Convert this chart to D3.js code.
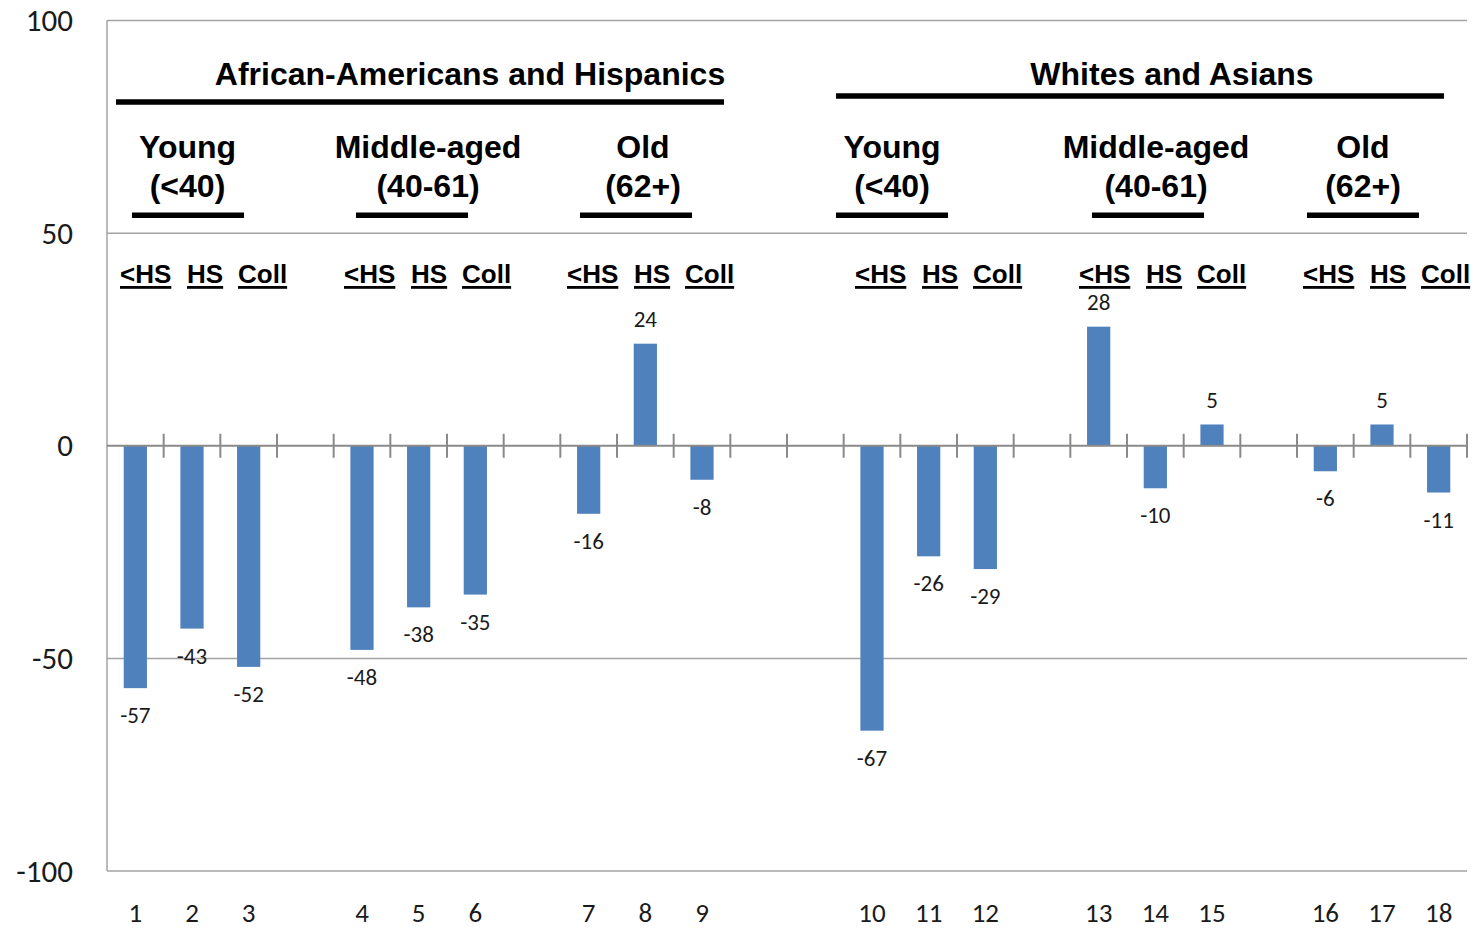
<!DOCTYPE html>
<html>
<head>
<meta charset="utf-8">
<script src="https://cdn.jsdelivr.net/npm/d3@7"></script>
<style>
  html, body { margin: 0; padding: 0; background: #fff; }
  svg { display: block; }
</style>
</head>
<body>
<svg id="chart" width="1477" height="929"></svg>
<script>
// ---- data ----
const raceGroups = ["African-Americans and Hispanics", "Whites and Asians"];
const ageGroups = [["Young", "(<40)"], ["Middle-aged", "(40-61)"], ["Old", "(62+)"]];
const eduLevels = ["<HS", "HS", "Coll"];
const barLabels = ["1","2","3","4","5","6","7","8","9","10","11","12","13","14","15","16","17","18"];
const values = [-57, -43, -52, -48, -38, -35, -16, 24, -8, -67, -26, -29, 28, -10, 5, -6, 5, -11];
const yTicks = [100, 50, 0, -50, -100];

// ---- layout ----
const plot = { left: 107, right: 1467, top: 20.5, bottom: 871 };
const BLUE = "#4f81bd";
const GRID = "#a3a3a3";
const AXIS = "#8a8a8a";
const numFont = "Carlito, 'Liberation Sans', Arial, sans-serif";
const headFont = "'Liberation Sans', Arial, sans-serif";

// category slots: one per bar, one empty slot between age groups,
// two empty slots between the race groups
const slots = [];
let k = 0;
raceGroups.forEach((r, ri) => {
  if (ri > 0) { slots.push(`gap-r${ri}a`); slots.push(`gap-r${ri}b`); }
  ageGroups.forEach((a, ai) => {
    if (ai > 0) slots.push(`gap-${ri}-${ai}`);
    eduLevels.forEach(() => slots.push(barLabels[k++]));
  });
});

const svg = d3.select("#chart");

const x = d3.scaleBand().domain(slots).range([plot.left, plot.right]).padding(0);
const y = d3.scaleLinear().domain([-100, 100]).range([plot.bottom, plot.top]);
const barW = x.bandwidth() * 0.41;

// gridlines
svg.append("g").selectAll("line")
  .data(yTicks.filter(v => v !== 0))
  .join("line")
  .attr("x1", plot.left).attr("x2", plot.right)
  .attr("y1", d => y(d)).attr("y2", d => y(d))
  .attr("stroke", GRID).attr("stroke-width", 1.5);

// vertical axis line
svg.append("line")
  .attr("x1", plot.left).attr("x2", plot.left)
  .attr("y1", y(100)).attr("y2", y(-100))
  .attr("stroke", GRID).attr("stroke-width", 1.5);

// y tick labels
const yAxis = d3.axisLeft(y).tickValues(yTicks).tickSize(0).tickPadding(0).tickFormat(d => String(d));
const yg = svg.append("g").attr("transform", `translate(${plot.left - 34},0)`).call(yAxis);
yg.select(".domain").remove();
yg.selectAll("text")
  .attr("font-family", numFont).attr("font-size", 31).attr("fill", "#1a1a1a")
  .attr("dy", "0.33em");

// bars
svg.append("g").selectAll("rect")
  .data(values)
  .join("rect")
  .attr("x", (d, i) => x(barLabels[i]) + (x.bandwidth() - barW) / 2)
  .attr("width", barW)
  .attr("y", d => y(Math.max(0, d)))
  .attr("height", d => Math.abs(y(d) - y(0)))
  .attr("fill", BLUE);

// zero line with crossing tick marks at category boundaries
svg.append("line")
  .attr("x1", plot.left).attr("x2", plot.right)
  .attr("y1", y(0)).attr("y2", y(0))
  .attr("stroke", AXIS).attr("stroke-width", 2);
svg.append("g").selectAll("line")
  .data(slots)
  .join("line")
  .attr("x1", d => x(d) + x.bandwidth()).attr("x2", d => x(d) + x.bandwidth())
  .attr("y1", y(0) - 12).attr("y2", y(0) + 12)
  .attr("stroke", AXIS).attr("stroke-width", 2);

// category labels along the bottom
const xAxis = d3.axisBottom(x).tickSize(0).tickPadding(0)
  .tickFormat(d => barLabels.includes(d) ? d : "");
const xg = svg.append("g").attr("transform", `translate(0,${plot.bottom + 51})`).call(xAxis);
xg.select(".domain").remove();
xg.selectAll("text")
  .attr("font-family", numFont).attr("font-size", 27).attr("fill", "#1a1a1a")
  .attr("dy", 0);

// value labels
svg.append("g").selectAll("text")
  .data(values)
  .join("text")
  .attr("x", (d, i) => x(barLabels[i]) + x.bandwidth() / 2)
  .attr("y", d => d < 0 ? y(d) + 27 : y(d) - 25)
  .attr("dy", "0.35em")
  .attr("text-anchor", "middle")
  .attr("font-family", numFont).attr("font-size", 23).attr("fill", "#1a1a1a")
  .text(d => d);

// ---- group headings ----
const head = svg.append("g").attr("font-family", headFont).attr("font-weight", "bold").attr("fill", "#000");

const raceLayout = [
  { cx: 470, line: [116, 724], ly: 102 },
  { cx: 1172, line: [836, 1444], ly: 96 }
];
raceGroups.forEach((r, i) => {
  const L = raceLayout[i];
  head.append("text").attr("x", L.cx).attr("y", 85).attr("text-anchor", "middle")
    .attr("font-size", 32).text(r);
  head.append("rect").attr("x", L.line[0]).attr("y", L.ly - 2.75)
    .attr("width", L.line[1] - L.line[0]).attr("height", 5.5);
});

const ageLayout = [
  { cx: 187.5, line: [132, 244] },
  { cx: 428, line: [356, 468] },
  { cx: 643, line: [580, 692] },
  { cx: 892, line: [836, 948] },
  { cx: 1156, line: [1092, 1204] },
  { cx: 1363, line: [1307, 1419] }
];
const eduStarts = [120, 344, 567, 855, 1079, 1303];
const eduOffsets = [0, 67, 118];

raceGroups.forEach((r, ri) => {
  ageGroups.forEach((a, ai) => {
    const idx = ri * ageGroups.length + ai;
    const L = ageLayout[idx];
    head.append("text").attr("x", L.cx).attr("y", 158).attr("text-anchor", "middle")
      .attr("font-size", 32).text(a[0]);
    head.append("text").attr("x", L.cx).attr("y", 197).attr("text-anchor", "middle")
      .attr("font-size", 32).text(a[1]);
    head.append("rect").attr("x", L.line[0]).attr("y", 212.5)
      .attr("width", L.line[1] - L.line[0]).attr("height", 5.5);

    eduLevels.forEach((e, ei) => {
      const tx = eduStarts[idx] + eduOffsets[ei];
      const t = head.append("text").attr("x", tx).attr("y", 283)
        .attr("font-size", 26).text(e);
      const w = t.node().getComputedTextLength();
      head.append("rect").attr("x", tx).attr("y", 286).attr("width", w).attr("height", 2.8);
    });
  });
});
</script>
</body>
</html>
